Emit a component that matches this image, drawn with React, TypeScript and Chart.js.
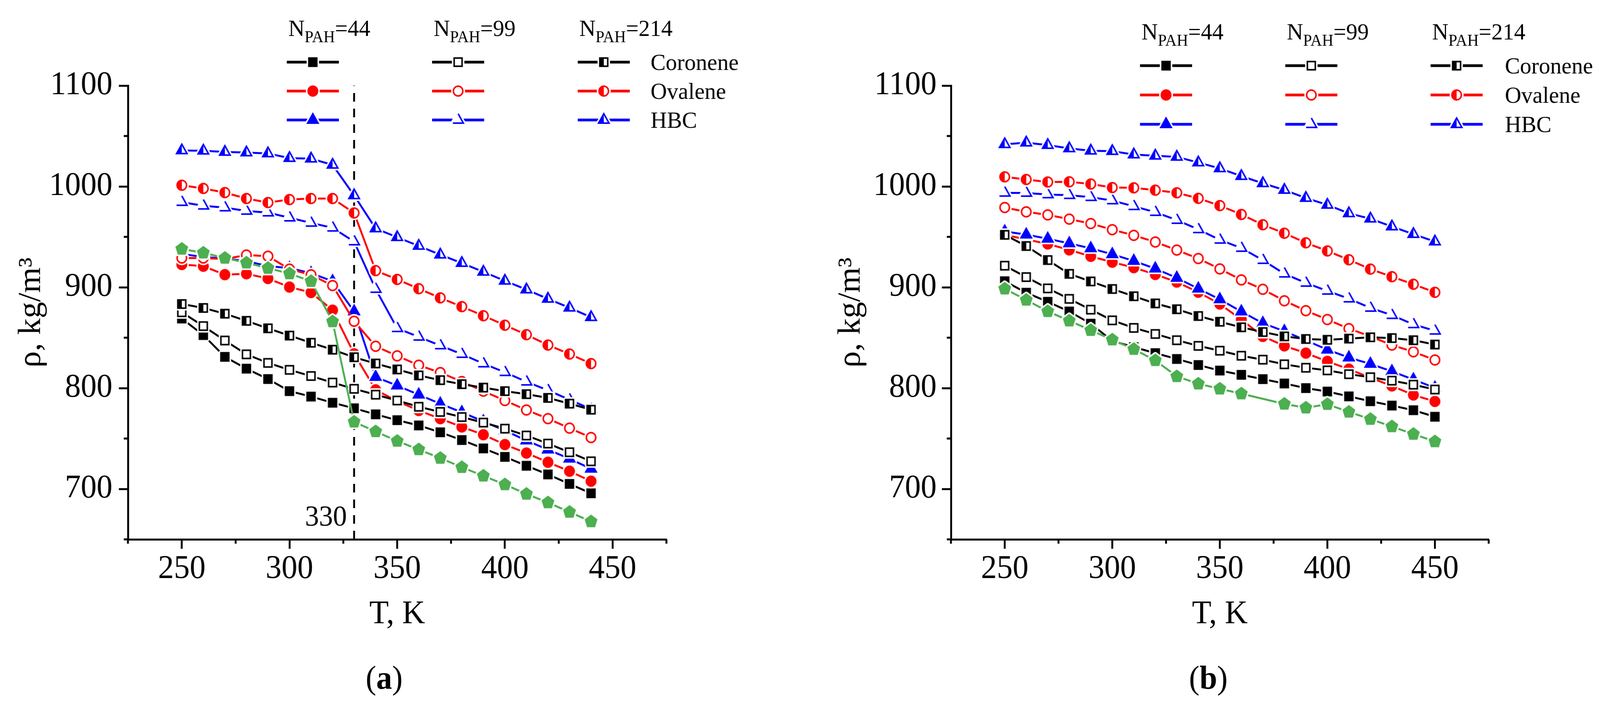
import { useEffect, useRef } from "react"
import { Chart, registerables } from "chart.js"

Chart.register(...registerables)

const FONT = "'Liberation Serif', 'Times New Roman', Times, serif"
const BLACK = "#000000"
const RED = "#ff0000"
const BLUE = "#0000ff"
const GREEN = "#4caf50"

// temperatures, K
const tempsA = [250, 260, 270, 280, 290, 300, 310, 320, 330, 340, 350, 360, 370, 380, 390, 400, 410, 420, 430, 440]
const tempsB = [250, 260, 270, 280, 290, 300, 310, 320, 330, 340, 350, 360, 370, 380, 390, 400, 410, 420, 430, 440, 450]

// (a) density, kg/m3
const aCor44 = [869, 852.6, 831, 819.3, 809, 797, 791.6, 785.5, 780, 774, 768.2, 763, 756.2, 748.5, 740.2, 731.8, 723, 714.4, 705, 695.7]
const aOva44 = [922.6, 920.9, 912.5, 913.4, 908.7, 900.2, 894.8, 877.3, 834, 798.3, 787, 777.8, 769.7, 761.5, 753.8, 744, 735.6, 726.5, 717.6, 707.7]
const aHbc44 = [933, 930, 928.5, 926, 921, 919, 914, 906, 876, 811, 802.5, 793.5, 784.5, 776, 767, 758, 748, 739, 730, 720]
const aCor99 = [875.2, 861.5, 847.2, 833.5, 825, 818.1, 812, 805.5, 799.3, 793.5, 787.7, 781.5, 776.4, 771.3, 765.8, 759.8, 753, 745, 736.4, 727.4]
const aOva99 = [929, 929, 928, 932, 930.8, 918, 912.4, 901.7, 866.3, 841.5, 832, 822.7, 815.4, 806.5, 797, 787.7, 778.3, 769.7, 760.3, 751]
const aHbc99 = [984.4, 980.8, 979, 975.7, 974, 969, 963.8, 959, 945.3, 898.2, 859.3, 850.8, 842.2, 833.7, 824.3, 815.7, 806.3, 797.8, 788.5, 779.1]
const aCor214 = [883.4, 879.5, 873.8, 866.7, 859.3, 852.1, 845, 838.1, 830.6, 824.4, 818.5, 812.6, 807.9, 803.9, 800.5, 797, 794, 790.3, 784.6, 778.6]
const aOva214 = [1001.2, 998, 993.9, 988, 984, 987, 988, 988, 973.7, 916.5, 907.8, 898.6, 889.5, 880.8, 871.8, 862.4, 853, 842.7, 833.8, 824.3]
const aHbc214 = [1035.7, 1035.4, 1034.2, 1033.6, 1032.7, 1028.1, 1027.5, 1021.4, 991.1, 958.3, 949.6, 941, 932.3, 924, 915.3, 906.4, 897.7, 888.5, 879.7, 870.3]
const aGreen = [938, 934.2, 929, 924.3, 919, 913.6, 906, 866, 766.5, 757, 747.5, 739.1, 730.6, 721.5, 713, 704.4, 695, 686.5, 677.1, 667.7]

// (b) density, kg/m3
const bCor44 = [906, 894.6, 885.6, 876, 863.9, 846.7, 840.7, 834.7, 828.9, 822.9, 817.4, 813.2, 808.9, 804.6, 800, 796.6, 791.8, 787, 782.7, 778.1, 771.6]
const bOva44 = [952, 947.5, 943, 937.1, 930.7, 924.9, 919.5, 912.7, 905.2, 895.1, 883.4, 868, 851.3, 841.9, 834.7, 826.5, 818.8, 810.3, 802.2, 793.2, 786.8]
const bHbc44 = [955.3, 952.2, 948.1, 943.5, 938.6, 932.7, 926.1, 918.5, 909.3, 898.6, 888, 875.9, 864.4, 856.4, 847.4, 838.1, 830.3, 824, 816.6, 808.5, 800.3]
const bCor99 = [921.4, 910.1, 898.9, 888.5, 877.8, 867.2, 859.7, 853.7, 847.5, 841.9, 837.1, 832.1, 828.2, 823.6, 820.2, 817.6, 813.8, 810.8, 807.4, 803.4, 798.6]
const bOva99 = [979.1, 974.8, 971.8, 967.6, 963.2, 957.1, 951.5, 944.9, 936.9, 928.5, 918.2, 907.3, 898, 886.6, 876.8, 868, 859, 851.3, 842.7, 836, 827.9]
const bHbc99 = [993.6, 993.5, 992, 991.3, 989.3, 986, 980.3, 974.5, 966.6, 957.4, 947, 938.9, 926.9, 913.4, 904.3, 896.4, 888.7, 879.5, 872.3, 863.2, 856.8]
const bCor214 = [952, 940.9, 927, 913.3, 905.8, 898.3, 891.1, 884, 878.2, 871.5, 865.8, 860.3, 855.6, 851.3, 848.7, 847.9, 849.1, 850.4, 849.6, 847.5, 843.2]
const bOva214 = [1009.5, 1006.9, 1004.4, 1004.6, 1002.4, 998.9, 998.6, 996.3, 993.7, 988.2, 981, 972.2, 962, 953.6, 944.1, 936, 927.3, 918, 910.5, 903, 895]
const bHbc214 = [1041.8, 1043.4, 1041, 1037.7, 1035.4, 1035, 1031.6, 1030.4, 1029.3, 1023.7, 1017.9, 1010.2, 1003.1, 996.5, 988.5, 981.7, 973.3, 968, 960.2, 952.7, 945.3]
const bGreen = [898.5, 887.4, 876.1, 866.8, 857.4, 848, 838.6, 827.5, 811.6, 804.3, 799.3, 794.5, null, 784.3, 780.5, 784, 776.4, 769.2, 761.9, 754.4, 747]

const compounds = ["Coronene", "Ovalene", "HBC"]
const nPah = ["44", "99", "214"]
const xTicks = [250, 300, 350, 400, 450]
const yTicks = [700, 800, 900, 1000, 1100]
const xMinor = [225, 275, 325, 375, 425, 475]
const yMinor = [650, 750, 850, 950, 1050]
const X_MIN = 225
const X_MAX = 475
const Y_MIN = 650
const Y_MAX = 1100
const markA = [330]

// drawing coordinates of one panel (the page is two panels wide)
const W = 2120
const H = 1814
const X_AXIS_H = 260
const MAJOR = 24
const MINOR = 11

type Shape = "square" | "circle" | "triangle" | "pentagon"
type Fill = "full" | "open" | "half" | "broken"

const colors = [BLACK, RED, BLUE]
const shapes: Shape[] = ["square", "circle", "triangle"]

// marker style per N_PAH column, per compound row
function fillFor(n: number, c: number): Fill {
  if (n === 0) return "full"
  if (n === 1) return c === 2 ? "broken" : "open"
  return "half"
}

const MSIZE = 60
const STROKE = 4
const GAP = 4
const TRI_R = 16

function tracePath(g: CanvasRenderingContext2D, shape: Shape, cx: number, cy: number) {
  g.beginPath()
  if (shape === "square") {
    g.rect(cx - 10.5, cy - 10.5, 21, 21)
  } else if (shape === "circle") {
    g.arc(cx, cy, 12.5, 0, Math.PI * 2)
  } else if (shape === "triangle") {
    g.moveTo(cx, cy - TRI_R)
    g.lineTo(cx + TRI_R * 0.866, cy + TRI_R / 2)
    g.lineTo(cx - TRI_R * 0.866, cy + TRI_R / 2)
    g.closePath()
  } else {
    const R = 16
    for (let k = 0; k < 5; k++) {
      const a = -Math.PI / 2 + (k * 2 * Math.PI) / 5
      const px = cx + R * Math.cos(a)
      const py = cy + R * Math.sin(a)
      if (k === 0) g.moveTo(px, py)
      else g.lineTo(px, py)
    }
    g.closePath()
  }
}

const markerCache = new Map<string, HTMLCanvasElement>()

function marker(shape: Shape, fill: Fill, color: string) {
  const key = shape + fill + color
  const hit = markerCache.get(key)
  if (hit) return hit
  const c = document.createElement("canvas")
  c.width = MSIZE
  c.height = MSIZE
  const g = c.getContext("2d")!
  const m = MSIZE / 2
  const sw = shape === "pentagon" ? 3 : STROKE

  // white halo: gap between the line and the symbol
  g.lineJoin = "round"
  tracePath(g, shape, m, m)
  g.fillStyle = "#ffffff"
  g.fill()
  g.strokeStyle = "#ffffff"
  g.lineWidth = sw + 2 * GAP
  g.stroke()

  g.lineJoin = "miter"
  if (fill === "full") {
    tracePath(g, shape, m, m)
    g.fillStyle = color
    g.fill()
  } else if (fill === "half") {
    g.save()
    g.beginPath()
    g.rect(0, 0, m, MSIZE)
    g.clip()
    tracePath(g, shape, m, m)
    g.fillStyle = color
    g.fill()
    g.restore()
  }
  g.strokeStyle = color
  g.lineWidth = sw
  if (fill === "broken") {
    g.beginPath()
    g.moveTo(m, m - TRI_R)
    g.lineTo(m + TRI_R * 0.866, m + TRI_R / 2)
    g.lineTo(m - TRI_R * 0.866, m + TRI_R / 2)
    g.stroke()
  } else {
    tracePath(g, shape, m, m)
    g.stroke()
  }
  markerCache.set(key, c)
  return c
}

type PanelCfg = {
  right: boolean
  temps: number[]
  grid: (number | null)[][][]
  green: (number | null)[]
  area: { left: number; right: number; top: number; bottom: number }
  yTitlePad: number
  yTickPad: number
  legend: { cols: number[]; rows: number[]; header: number; labelX: number }
  captionX: number
  letter: string
  mark: number[]
}

const panels: PanelCfg[] = [
  {
    right: false,
    temps: tempsA,
    grid: [
      [aCor44, aOva44, aHbc44],
      [aCor99, aOva99, aHbc99],
      [aCor214, aOva214, aHbc214],
    ],
    green: aGreen,
    area: { left: 339, right: 1766, top: 219, bottom: 1380 },
    yTitlePad: 34,
    yTickPad: 17,
    legend: { cols: [760, 1145, 1531], rows: [159, 233, 307], header: 92, labelX: 1724 },
    captionX: 1018,
    letter: "a",
    mark: markA,
  },
  {
    right: true,
    temps: tempsB,
    grid: [
      [bCor44, bOva44, bHbc44],
      [bCor99, bOva99, bHbc99],
      [bCor214, bOva214, bHbc214],
    ],
    green: bGreen,
    area: { left: 400, right: 1825, top: 219, bottom: 1380 },
    yTitlePad: 86,
    yTickPad: 14,
    legend: { cols: [901, 1286, 1671], rows: [168, 243, 318], header: 101, labelX: 1868 },
    captionX: 1082,
    letter: "b",
    mark: [],
  },
]

function decorPlugin(cfg: PanelCfg) {
  return {
    id: "decor",
    afterDraw(chart: Chart) {
      const ctx = chart.ctx
      const xs = chart.scales.x
      const ys = chart.scales.y
      const area = chart.chartArea
      ctx.save()

      // minor ticks
      ctx.strokeStyle = BLACK
      ctx.lineWidth = 5
      ctx.beginPath()
      for (const v of xMinor) {
        const px = xs.getPixelForValue(v)
        ctx.moveTo(px, area.bottom)
        ctx.lineTo(px, area.bottom + MINOR)
      }
      for (const v of yMinor) {
        const py = ys.getPixelForValue(v)
        ctx.moveTo(area.left, py)
        ctx.lineTo(area.left - MINOR, py)
      }
      ctx.stroke()

      // legend grid
      const L = cfg.legend
      ctx.fillStyle = BLACK
      ctx.textAlign = "left"
      ctx.textBaseline = "alphabetic"
      nPah.forEach((n, ci) => {
        let x = L.cols[ci] + 4
        ctx.font = `60px ${FONT}`
        ctx.fillText("N", x, L.header)
        x += ctx.measureText("N").width
        ctx.font = `42px ${FONT}`
        ctx.fillText("PAH", x, L.header + 16)
        x += ctx.measureText("PAH").width
        ctx.font = `60px ${FONT}`
        ctx.fillText("=" + n, x, L.header)
      })
      for (let ci = 0; ci < 3; ci++) {
        for (let ri = 0; ri < 3; ri++) {
          const x0 = L.cols[ci]
          const y = L.rows[ri]
          ctx.strokeStyle = colors[ri]
          ctx.lineWidth = 7
          ctx.beginPath()
          ctx.moveTo(x0, y)
          ctx.lineTo(x0 + 138, y)
          ctx.stroke()
          const img = marker(shapes[ri], fillFor(ci, ri), colors[ri])
          ctx.drawImage(img, x0 + 69 - MSIZE / 2, y - MSIZE / 2)
        }
      }
      ctx.font = `60px ${FONT}`
      compounds.forEach((name, ri) => {
        ctx.fillText(name, L.labelX, L.rows[ri] + 20)
      })

      // annotation of the marked temperature
      ctx.font = `74px ${FONT}`
      ctx.textAlign = "right"
      for (const t of cfg.mark) {
        ctx.fillText(String(t), xs.getPixelForValue(t) - 19, area.bottom - 35)
      }

      // caption (a) / (b)
      ctx.textAlign = "left"
      ctx.font = `84px ${FONT}`
      const wl = ctx.measureText("(").width
      const wr = ctx.measureText(")").width
      ctx.font = `bold 84px ${FONT}`
      const wm = ctx.measureText(cfg.letter).width
      let cx = cfg.captionX - (wl + wm + wr) / 2
      const base = 1762
      ctx.font = `84px ${FONT}`
      ctx.fillText("(", cx, base)
      cx += wl
      ctx.font = `bold 84px ${FONT}`
      ctx.fillText(cfg.letter, cx, base)
      cx += wm
      ctx.font = `84px ${FONT}`
      ctx.fillText(")", cx, base)

      ctx.restore()
    },
  }
}

function Panel({ cfg }: { cfg: PanelCfg }) {
  const canvasRef = useRef<HTMLCanvasElement>(null)

  useEffect(() => {
    if (!canvasRef.current) return

    const datasets: any[] = []
    for (const t of cfg.mark) {
      datasets.push({
        data: [
          { x: t, y: Y_MIN },
          { x: t, y: Y_MAX },
        ],
        borderColor: BLACK,
        borderWidth: 5,
        borderDash: [22, 18],
        pointRadius: 0,
      })
    }
    for (let ni = 0; ni < 3; ni++) {
      for (let ci = 0; ci < 3; ci++) {
        const vals = cfg.grid[ni][ci]
        datasets.push({
          data: cfg.temps.map((t, i) => ({ x: t, y: vals[i] })),
          borderColor: colors[ci],
          borderWidth: 5,
          pointStyle: marker(shapes[ci], fillFor(ni, ci), colors[ci]),
          pointRadius: 10,
          pointHoverRadius: 10,
          spanGaps: true,
        })
      }
    }
    datasets.push({
      data: cfg.temps.map((t, i) => ({ x: t, y: cfg.green[i] })),
      borderColor: GREEN,
      borderWidth: 5,
      pointStyle: marker("pentagon", "full", GREEN),
      pointRadius: 10,
      pointHoverRadius: 10,
      spanGaps: true,
    })
    // later series are drawn on top
    datasets.forEach((d, i) => (d.order = datasets.length - i))

    const tickFont = { family: FONT, size: 84 }
    const chart = new Chart(canvasRef.current, {
      type: "line",
      data: { datasets },
      options: {
        animation: false,
        responsive: false,
        devicePixelRatio: 1,
        events: [],
        layout: {
          padding: {
            left: 0,
            top: cfg.area.top,
            right: W - cfg.area.right,
            bottom: H - cfg.area.bottom - X_AXIS_H,
          },
        },
        plugins: { legend: { display: false }, tooltip: { enabled: false } },
        scales: {
          x: {
            type: "linear",
            min: X_MIN,
            max: X_MAX,
            afterBuildTicks: (s: any) => {
              s.ticks = xTicks.map((v) => ({ value: v }))
            },
            afterFit: (s: any) => {
              s.height = X_AXIS_H
            },
            ticks: {
              callback: (v: any) => String(v),
              font: tickFont,
              color: BLACK,
              padding: 3,
              maxRotation: 0,
              autoSkip: false,
            },
            grid: { drawOnChartArea: false, drawTicks: true, tickLength: MAJOR, tickWidth: 5, tickColor: BLACK },
            border: { display: true, width: 5, color: BLACK },
            title: {
              display: true,
              text: "T, K",
              font: tickFont,
              color: BLACK,
              padding: { top: 0, bottom: 17 },
            },
          },
          y: {
            type: "linear",
            min: Y_MIN,
            max: Y_MAX,
            afterBuildTicks: (s: any) => {
              s.ticks = yTicks.map((v) => ({ value: v }))
            },
            afterFit: (s: any) => {
              s.width = cfg.area.left
            },
            ticks: {
              callback: (v: any) => String(v),
              font: tickFont,
              color: BLACK,
              padding: cfg.yTickPad,
              autoSkip: false,
            },
            grid: { drawOnChartArea: false, drawTicks: true, tickLength: MAJOR, tickWidth: 5, tickColor: BLACK },
            border: { display: true, width: 5, color: BLACK },
            title: {
              display: true,
              text: "ρ, kg/m³",
              font: tickFont,
              color: BLACK,
              padding: { top: cfg.yTitlePad, bottom: 0 },
            },
          },
        },
      },
      plugins: [decorPlugin(cfg)],
    })

    return () => {
      chart.destroy()
    }
  }, [cfg])

  // the canvas keeps its 2120x1814 drawing grid and is stretched over half the viewport
  return (
    <canvas
      ref={canvasRef}
      width={W}
      height={H}
      style={{
        position: "absolute",
        left: cfg.right ? "50vw" : 0,
        top: 0,
        width: "50vw",
        height: "100vh",
        display: "block",
      }}
    />
  )
}

export default function App() {
  return (
    <div
      style={{
        position: "fixed",
        left: 0,
        top: 0,
        width: "100vw",
        height: "100vh",
        overflow: "hidden",
        background: "#ffffff",
      }}
    >
      {panels.map((p) => (
        <Panel key={p.letter} cfg={p} />
      ))}
    </div>
  )
}
